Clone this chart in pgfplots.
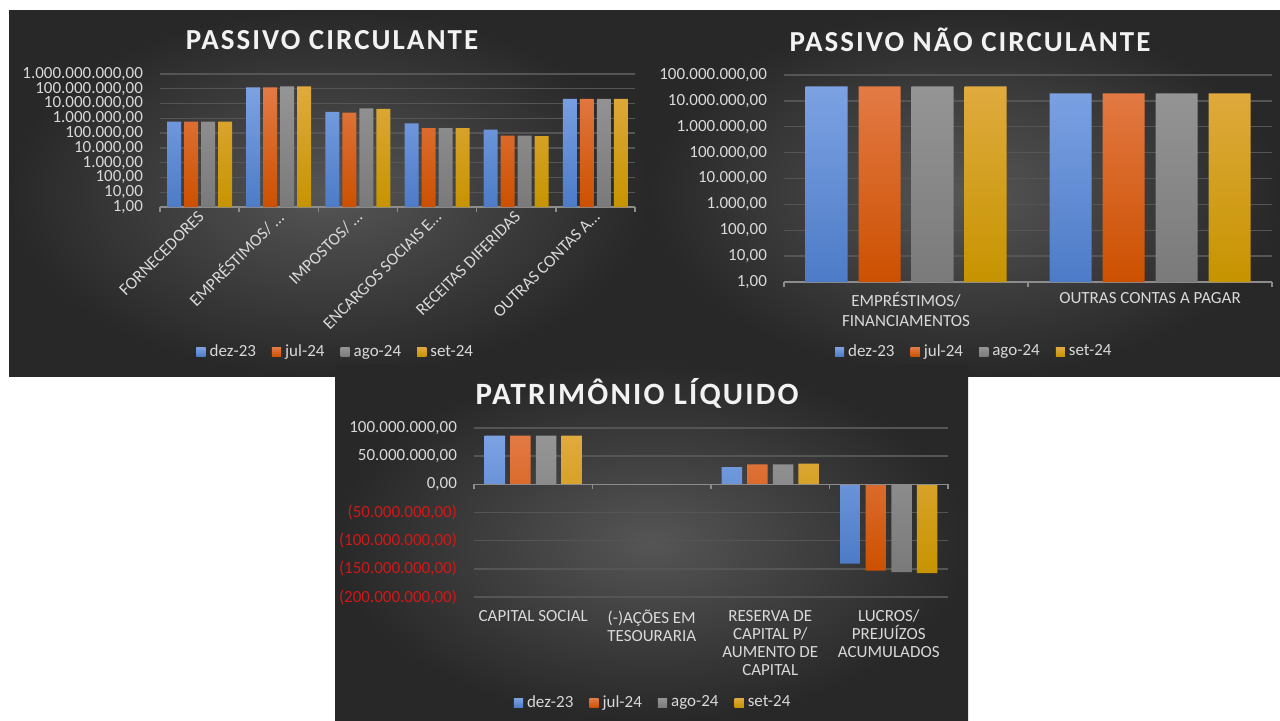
\documentclass[border=0pt]{standalone}
\usepackage{fontspec}
\setmainfont{Carlito}
\usepackage{pgfplots}
\pgfplotsset{compat=1.18}

\definecolor{bgin}{HTML}{555555}
\definecolor{bgout}{HTML}{282828}
\definecolor{gridc}{HTML}{555555}
\definecolor{axc}{HTML}{8C8C8C}
\definecolor{labc}{HTML}{D9D9D9}
\definecolor{titc}{HTML}{F2F2F2}
\definecolor{negred}{HTML}{D01818}
\definecolor{bluT}{HTML}{7CA2E3}
\definecolor{bluB}{HTML}{4D7BC7}
\definecolor{oraT}{HTML}{E37A45}
\definecolor{oraB}{HTML}{CC5000}
\definecolor{gryT}{HTML}{959595}
\definecolor{gryB}{HTML}{7A7A7A}
\definecolor{golT}{HTML}{E0AA3E}
\definecolor{golB}{HTML}{C69400}

\newcommand{\tf}{\fontsize{8.5}{10}\selectfont}
\newcommand{\ttl}{\fontsize{14.5}{16}\selectfont\bfseries\addfontfeatures{LetterSpace=7}}
\newcommand{\ttlb}{\fontsize{15.5}{17}\selectfont\bfseries\addfontfeatures{LetterSpace=7}}

\pgfplotsset{
  ybar legend/.style={/pgfplots/legend image code/.code={\path[##1, draw=none] (0pt,-2.3pt) rectangle (4.6pt,2.3pt);}},
  excel/.style={
    scale only axis,
    ybar,
    xmin=-0.5,
    scaled y ticks=false,
    axis x line*=bottom,
    axis y line*=left,
    x axis line style={draw=axc, line width=0.7pt},
    every outer x axis line/.append style={-},
    y axis line style={draw=none},
    ytick style={draw=none},
    major x tick style={draw=none},
    minor x tick style={draw=axc, line width=0.7pt},
    tick align=outside,
    major tick length=0pt,
    minor tick length=2.5pt,
    xtick pos=left, ytick pos=left,
    ymajorgrids,
    grid style={draw=gridc, line width=0.7pt},
    tick label style={font=\tf, text=labc},
    yticklabel style={xshift=-5pt},
    legend columns=4,
    legend style={draw=none, fill=none, text=labc, font=\tf, anchor=center,
      /tikz/every even column/.append style={column sep=6pt}},
    clip=false,
  },
  sdez/.style={draw=none, top color=bluT, bottom color=bluB},
  sjul/.style={draw=none, top color=oraT, bottom color=oraB},
  sago/.style={draw=none, top color=gryT, bottom color=gryB},
  sset/.style={draw=none, top color=golT, bottom color=golB},
}

\begin{document}
\begin{tikzpicture}
\fill[white] (0,0) rectangle (640pt,-360pt);
\shade[inner color=bgin, outer color=bgout] (4.5pt,-5pt) rectangle (325pt,-188pt);
\shade[inner color=bgin, outer color=bgout] (325pt,-5pt) rectangle (640pt,-188pt);
\shade[inner color=bgin, outer color=bgout] (167.5pt,-182pt) rectangle (484pt,-360pt);

\node[text=titc, font=\ttl] at (166pt,-20pt) {PASSIVO CIRCULANTE};
\node[text=titc, font=\ttl] at (485pt,-20pt) {PASSIVO NÃO CIRCULANTE};
\node[text=titc, font=\ttlb] at (318.5pt,-196.5pt) {PATRIMÔNIO LÍQUIDO};

% passivo circulante
\begin{axis}[excel, at={(80pt,-103.5pt)}, anchor=south west,
  width=237.5pt, height=66.5pt,
  ymode=log, log origin=infty, ymin=1, ymax=1e9, yminorticks=false,
  xmax=5.5, bar width=7pt, ybar=1.5pt,
  ytick={1,10,100,1000,1e4,1e5,1e6,1e7,1e8,1e9},
  yticklabels={{1,00},{10,00},{100,00},{1.000,00},{10.000,00},{100.000,00},{1.000.000,00},{10.000.000,00},{100.000.000,00},{1.000.000.000,00}},
  xtick={0,1,2,3,4,5}, minor xtick={-0.5,0.5,1.5,2.5,3.5,4.5,5.5},
  xticklabels={{FORNECEDORES}, {EMPRÉSTIMOS/ \ldots}, {IMPOSTOS/ \ldots}, {ENCARGOS SOCIAIS E\ldots}, {RECEITAS DIFERIDAS}, {OUTRAS CONTAS A\ldots}},
  xticklabel style={rotate=45, anchor=east, xshift=1.5pt, yshift=-3pt},
  legend style={at={(0.372,-1.09)}},
]
\addplot[sdez] coordinates {(0,5.9e5) (1,1.23e8) (2,2.7e6) (3,4.6e5) (4,1.7e5) (5,2.1e7)};
\addplot[sjul] coordinates {(0,5.9e5) (1,1.25e8) (2,2.4e6) (3,2.2e5) (4,6.9e4) (5,2.1e7)};
\addplot[sago] coordinates {(0,5.9e5) (1,1.45e8) (2,4.8e6) (3,2.2e5) (4,6.9e4) (5,2.1e7)};
\addplot[sset] coordinates {(0,5.9e5) (1,1.45e8) (2,4.3e6) (3,2.2e5) (4,6.3e4) (5,2.1e7)};
\legend{dez-23, jul-24, ago-24, set-24}
\end{axis}

% passivo nao circulante
\begin{axis}[excel, at={(392pt,-141pt)}, anchor=south west,
  width=244pt, height=103.5pt,
  ymode=log, log origin=infty, ymin=1, ymax=1e8, yminorticks=false,
  xmax=1.5, bar width=21pt, ybar=5.5pt,
  ytick={1,10,100,1000,1e4,1e5,1e6,1e7,1e8},
  yticklabels={{1,00},{10,00},{100,00},{1.000,00},{10.000,00},{100.000,00},{1.000.000,00},{10.000.000,00},{100.000.000,00}},
  xtick={0,1}, minor xtick={-0.5,0.5,1.5},
  xticklabels={{EMPRÉSTIMOS/\\FINANCIAMENTOS}, {OUTRAS CONTAS A PAGAR}},
  xticklabel style={align=center, anchor=north, yshift=-1.5pt},
  legend style={at={(0.392,-0.338)}},
]
\addplot[sdez] coordinates {(0,3.6e7) (1,1.96e7)};
\addplot[sjul] coordinates {(0,3.6e7) (1,1.96e7)};
\addplot[sago] coordinates {(0,3.6e7) (1,1.96e7)};
\addplot[sset] coordinates {(0,3.6e7) (1,1.96e7)};
\legend{dez-23, jul-24, ago-24, set-24}
\end{axis}

% patrimonio liquido
\begin{axis}[excel, at={(237pt,-298.5pt)}, anchor=south west,
  width=237pt, height=84.5pt,
  x axis line style={draw=none},
  ymin=-200e6, ymax=100e6,
  xmax=3.5, bar width=10.25pt, ybar=2.55pt,
  ytick={-200e6,-150e6,-100e6,-50e6,0,50e6,100e6},
  yticklabels={{\textcolor{negred}{(200.000.000,00)}},{\textcolor{negred}{(150.000.000,00)}},{\textcolor{negred}{(100.000.000,00)}},{\textcolor{negred}{(50.000.000,00)}},{0,00},{50.000.000,00},{100.000.000,00}},
  xtick={0,1,2,3}, minor xtick={},
  xticklabels={{CAPITAL SOCIAL}, {(-)AÇÕES EM\\TESOURARIA}, {RESERVA DE\\CAPITAL P/\\AUMENTO DE\\CAPITAL}, {LUCROS/\\PREJUÍZOS\\ACUMULADOS}},
  xticklabel style={align=center, anchor=north, yshift=-3pt, font=\fontsize{8.5}{9}\selectfont},
  legend style={at={(0.38,-0.627)}},
]
\addplot[sdez] coordinates {(0,86.4e6) (1,0) (2,30.8e6) (3,-140.8e6)};
\addplot[sjul] coordinates {(0,86.4e6) (1,0) (2,35.5e6) (3,-153.3e6)};
\addplot[sago] coordinates {(0,86.4e6) (1,0) (2,35.5e6) (3,-155.6e6)};
\addplot[sset] coordinates {(0,86.4e6) (1,0) (2,36.7e6) (3,-157.4e6)};
\legend{dez-23, jul-24, ago-24, set-24}
\draw[axc, line width=0.7pt] (axis cs:-0.5,0) -- (axis cs:3.5,0);
\draw[axc, line width=0.7pt] (axis cs:-0.5,0) -- ([yshift=-2.5pt]axis cs:-0.5,0);
\draw[axc, line width=0.7pt] (axis cs:0.5,0) -- ([yshift=-2.5pt]axis cs:0.5,0);
\draw[axc, line width=0.7pt] (axis cs:1.5,0) -- ([yshift=-2.5pt]axis cs:1.5,0);
\draw[axc, line width=0.7pt] (axis cs:2.5,0) -- ([yshift=-2.5pt]axis cs:2.5,0);
\draw[axc, line width=0.7pt] (axis cs:3.5,0) -- ([yshift=-2.5pt]axis cs:3.5,0);
\end{axis}
\end{tikzpicture}
\end{document}
